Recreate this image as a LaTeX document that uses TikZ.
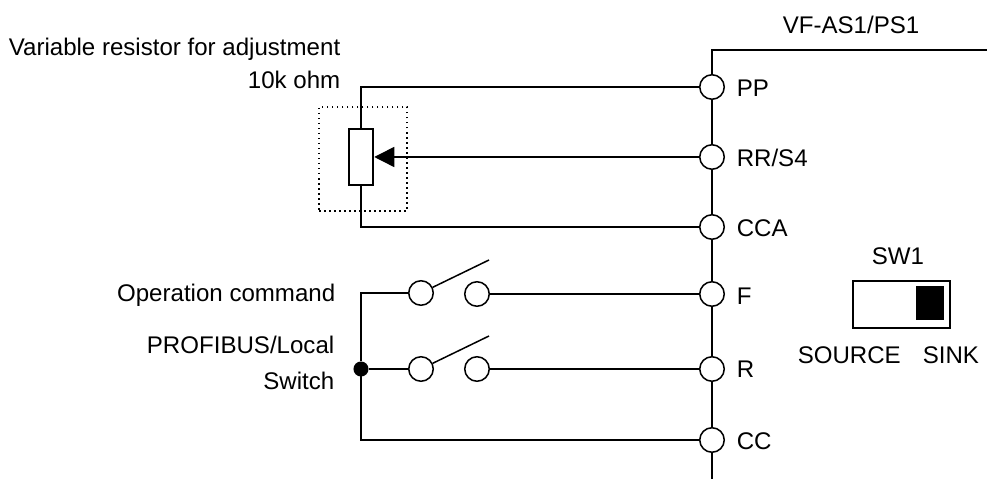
\documentclass[tikz,border=0pt]{standalone}
\usepackage{fontspec}
\setmainfont{Liberation Sans}
\usetikzlibrary{arrows.meta}
\tikzset{
    terminal/.style={draw, circle, minimum size=4.9mm, inner sep=0pt},
    label/.style={inner sep=0pt, font=\fontsize{13.7pt}{16pt}\selectfont},
    wire/.style={line width=0.3mm}
}
\begin{document}
\begin{tikzpicture}[x=0.2mm, y=-0.2mm, line width=0.3mm]
    \useasboundingbox (0,0) rectangle (987,479);
    % terminals on the inverter side
    \node[terminal] (pp) at (712,87) {};
    \node[terminal] (rr) at (712,157) {};
    \node[terminal] (cca) at (712,227) {};
    \node[terminal] (f) at (712,294) {};
    \node[terminal] (r) at (712,369) {};
    \node[terminal] (cc) at (712,440) {};
    \node[label, anchor=west] (pplabel) at (736,88) {PP};
    \node[label, anchor=west] (rrlabel) at (736,158) {RR/S4};
    \node[label, anchor=west] (ccalabel) at (736,228) {CCA};
    \node[label, anchor=west] (flabel) at (736,296) {F};
    \node[label, anchor=west] (rlabel) at (736,369) {R};
    \node[label, anchor=west] (cclabel) at (736,441) {CC};
    \node[label] (model) at (851,25) {VF-AS1/PS1};
    \coordinate (frameright) at (987,50);
    \coordinate (framecorner) at (712,50);
    \coordinate (busend) at (712,479);
    \draw[wire] (frameright) -- (framecorner) -- (pp);
    \draw[wire] (pp) -- (rr);
    \draw[wire] (rr) -- (cca);
    \draw[wire] (cca) -- (f);
    \draw[wire] (f) -- (r);
    \draw[wire] (r) -- (cc);
    \draw[wire] (cc) -- (busend);
    % variable resistor
    \node[draw, rectangle, minimum width=4.8mm, minimum height=11.2mm, inner sep=0pt] (res) at (361,157) {};
    \node[draw, rectangle, dotted, minimum width=17.6mm, minimum height=20.8mm, inner sep=0pt] (resbox) at (363,159) {};
    \node[label, anchor=east] (reslabel) at (341,49) {Variable resistor for adjustment};
    \node[label, anchor=east] (ohmlabel) at (341,80) {10k ohm};
    \draw[wire] (pp) -| (res);
    \draw[wire] (cca) -| (res);
    \draw[wire, -{Triangle[length=4mm, width=4mm]}, shorten >=0.1mm] (rr) -- (res);
    % contacts
    \node[terminal] (fleft) at (421,293) {};
    \node[terminal] (fright) at (477,294) {};
    \node[terminal] (rleft) at (421,369) {};
    \node[terminal] (rright) at (477,369) {};
    \coordinate (fblade) at (489,260);
    \coordinate (rblade) at (489,336);
    \node[draw, circle, fill=black, minimum size=2.7mm, inner sep=0pt] (dot) at (361,369) {};
    \draw[wire] (fleft) -- (fblade);
    \draw[wire] (rleft) -- (rblade);
    \draw[wire] (fright) -- (f);
    \draw[wire] (rright) -- (r);
    \draw[wire] (fleft) -| (dot);
    \draw[wire] (dot) -- (rleft);
    \draw[wire] (cc) -| (dot);
    \node[label, anchor=east] (oplabel) at (336,295) {Operation command};
    \node[label, anchor=east] (pblabel) at (335,345) {PROFIBUS/Local};
    \node[label, anchor=east] (swlabel) at (335,381) {Switch};
    % SW1
    \node[draw, rectangle, minimum width=19.4mm, minimum height=9.4mm, inner sep=0pt] (swbox) at (901.5,304.5) {};
    \node[rectangle, fill=black, minimum width=5.6mm, minimum height=6.8mm, inner sep=0pt] (slider) at (930,303.5) {};
    \node[label] (swname) at (898,256) {SW1};
    \node[label, anchor=west] (source) at (797,355) {SOURCE};
    \node[label, anchor=west] (sink) at (922,355) {SINK};
\end{tikzpicture}
\end{document}
